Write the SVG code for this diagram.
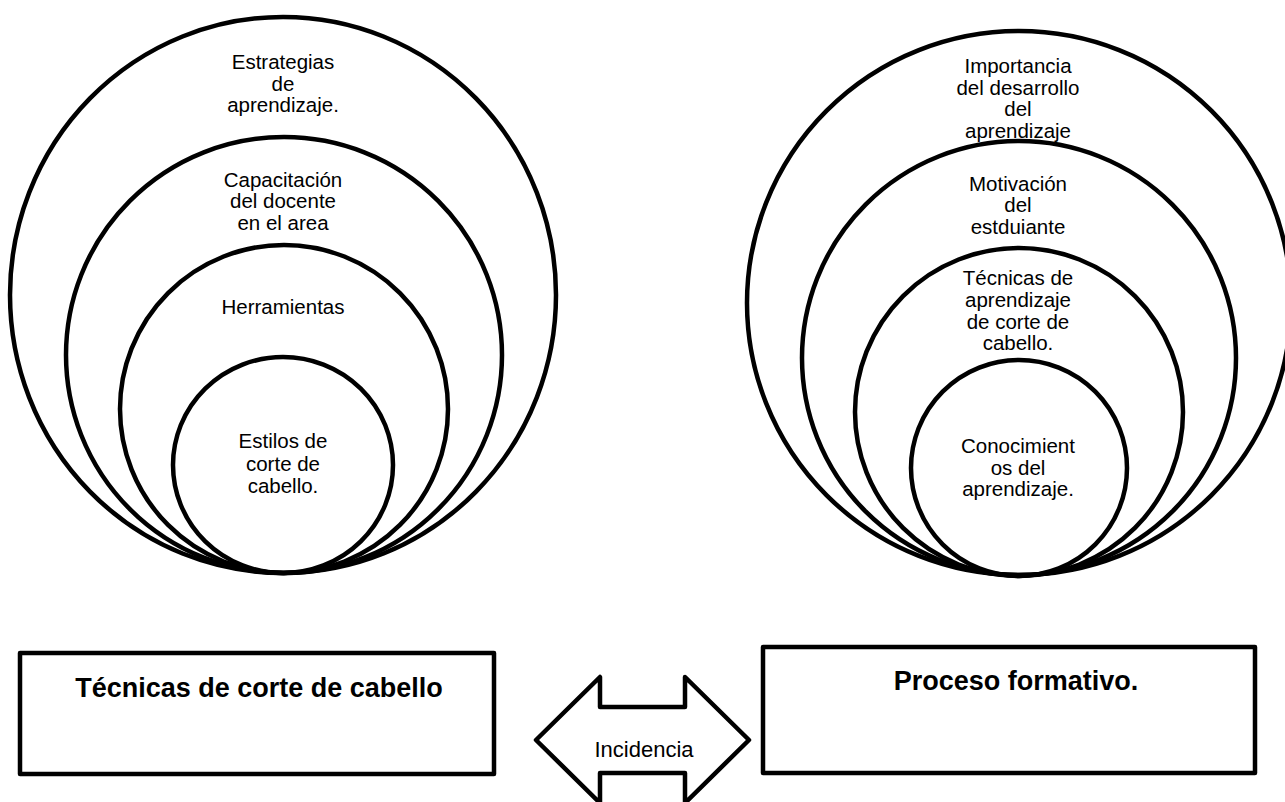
<svg xmlns="http://www.w3.org/2000/svg" width="1285" height="802" viewBox="0 0 1285 802">
<style>
.c{fill:none;stroke:#000;stroke-width:4.5}
.t{font-family:"Liberation Sans",Arial,sans-serif;font-size:20.5px;fill:#000;text-anchor:middle}
.b{font-family:"Liberation Sans",Arial,sans-serif;font-size:27px;font-weight:bold;fill:#000;text-anchor:middle}
.r{fill:#fff;stroke:#000;stroke-width:4.5;stroke-linejoin:round}
</style>
<rect width="1285" height="802" fill="#fff"/>
<g id="left-circles">
<g id="l1"><ellipse class="c" cx="283" cy="295" rx="273" ry="278"/>
<text class="t" x="283" y="69">Estrategias</text><text class="t" x="283" y="91">de</text><text class="t" x="283" y="112">aprendizaje.</text></g>
<g id="l2"><circle class="c" cx="284" cy="355" r="218"/>
<text class="t" x="283" y="187">Capacitación</text><text class="t" x="283" y="208">del docente</text><text class="t" x="283" y="230">en el area</text></g>
<g id="l3"><circle class="c" cx="284" cy="409" r="164"/>
<text class="t" x="283" y="314">Herramientas</text></g>
<g id="l4"><ellipse class="c" cx="283" cy="465" rx="110" ry="108"/>
<text class="t" x="283" y="448">Estilos de</text><text class="t" x="283" y="471">corte de</text><text class="t" x="283" y="493">cabello.</text></g>
</g>
<g id="right-circles">
<g id="r1"><circle class="c" cx="1019" cy="303" r="272"/>
<text class="t" x="1018" y="73">Importancia</text><text class="t" x="1018" y="95">del desarrollo</text><text class="t" x="1018" y="116">del</text><text class="t" x="1018" y="138">aprendizaje</text></g>
<g id="r2"><circle class="c" cx="1019" cy="358" r="217"/>
<text class="t" x="1018" y="191">Motivación</text><text class="t" x="1018" y="212">del</text><text class="t" x="1018" y="234">estduiante</text></g>
<g id="r3"><circle class="c" cx="1019" cy="412" r="164"/>
<text class="t" x="1018" y="285">Técnicas de</text><text class="t" x="1018" y="307">aprendizaje</text><text class="t" x="1018" y="329">de corte de</text><text class="t" x="1018" y="350">cabello.</text></g>
<g id="r4"><circle class="c" cx="1019" cy="468" r="108"/>
<text class="t" x="1018" y="453">Conocimient</text><text class="t" x="1018" y="475">os del</text><text class="t" x="1018" y="496">aprendizaje.</text></g>
</g>
<g id="box-left"><rect class="r" x="20" y="653" width="474" height="121"/>
<text class="b" x="259" y="697">Técnicas de corte de cabello</text></g>
<g id="box-right"><rect class="r" x="763" y="647" width="492" height="126"/>
<text class="b" x="1016" y="690">Proceso formativo.</text></g>
<g id="connectors">
<path class="r" d="M536,740 L600,677 L600,707 L685,707 L685,677 L749,740 L685,803 L685,773 L600,773 L600,803 Z"/>
<text class="t" x="644" y="757" style="font-size:22px">Incidencia</text>
</g>
</svg>
